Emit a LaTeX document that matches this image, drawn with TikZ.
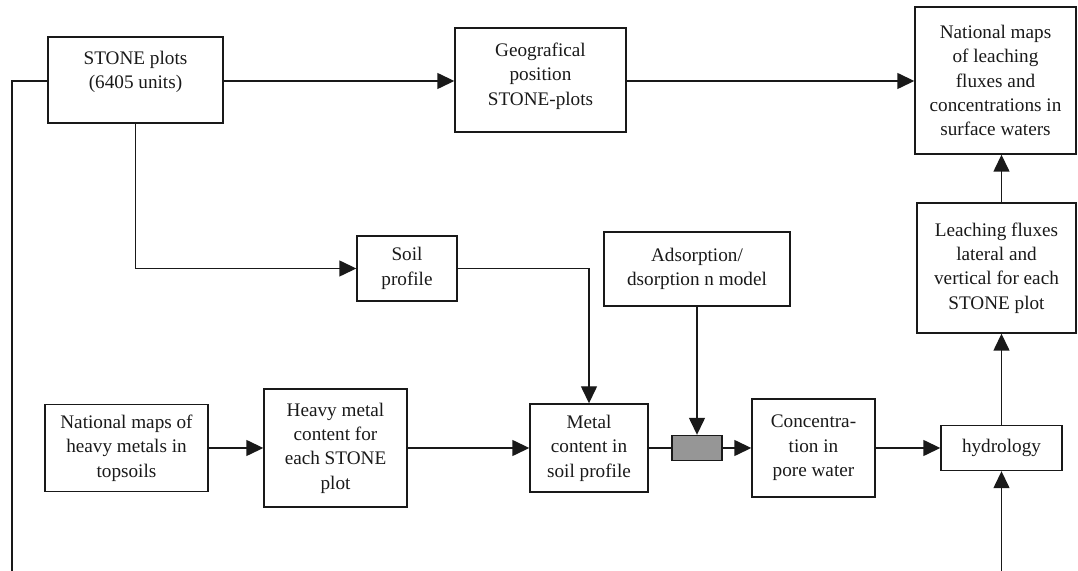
\documentclass[tikz,border=0pt]{standalone}
\usepackage{fontspec}
\setmainfont{Liberation Serif}
\usetikzlibrary{arrows.meta}
\definecolor{boxgrey}{RGB}{150,150,150}
\definecolor{ink}{RGB}{25,25,25}
\tikzset{
  txt/.style={align=center, inner sep=0pt, font=\fontsize{9.6}{12.2}\selectfont, text=ink},
  box/.style={txt, draw=ink, line width=0.7pt, inner sep=1pt},
  conn/.style={draw=ink, line width=0.7pt},
  arr/.style={conn, -{Triangle[length=8.5pt,width=8pt]}},
}
\begin{document}
\begin{tikzpicture}[x=0.5pt,y=-0.5pt]
\useasboundingbox (0,0) rectangle (1078,571);
\node[box, minimum width=87.5pt, minimum height=43pt] (stone) at (135.5,80) {};
\node[txt] (stonetext) at (135.5,72) {STONE plots\\(6405 units)};
\node[box, minimum width=85.5pt, minimum height=52pt] (geo) at (540.5,80) {};
\node[txt] (geotext) at (540.5,76) {Geografical\\position\\STONE-plots};
\node[box, minimum width=80.5pt, minimum height=73.5pt] (natmaps) at (995.5,80.5) {National maps\\of leaching\\fluxes and\\concentrations in\\surface waters};
\node[box, minimum width=79.5pt, minimum height=65pt] (leach) at (996.5,268) {Leaching fluxes\\lateral and\\vertical for each\\STONE plot};
\node[box, minimum width=60.5pt, minimum height=22.5pt] (hydro) at (1001.5,448) {hydrology};
\node[box, minimum width=61.5pt, minimum height=49pt] (conc) at (813.5,448) {Concentra-\\tion in\\pore water};
\node[box, fill=boxgrey, minimum width=25pt, minimum height=12.5pt] (grey) at (697,448) {};
\node[box, minimum width=59pt, minimum height=44pt] (metal) at (589,448) {Metal\\content in\\soil profile};
\node[box, minimum width=93pt, minimum height=37pt] (adsorp) at (697,269) {Adsorption/\\dsorption n model};
\node[box, minimum width=50pt, minimum height=32.5pt] (soil) at (407,268.5) {Soil\\profile};
\node[box, minimum width=81.5pt, minimum height=43.5pt] (natheavy) at (126.5,448) {National maps of\\heavy metals in\\topsoils};
\node[box, minimum width=71.5pt, minimum height=59pt] (heavy) at (335.5,448) {Heavy metal\\content for\\each STONE\\plot};
\coordinate (leftend) at (12,571);
\coordinate (hydroin) at (1001.5,571);
% connectors
\draw[arr] (stone.east |- 0,81) -- (geo.west |- 0,81);
\draw[arr] (geo.east |- 0,81) -- (natmaps.west |- 0,81);
\draw[conn] (stone.west |- 0,81) -| (leftend);
\draw[arr] (stone.south) |- (soil.west);
\draw[arr] (soil.east) -| (metal.north);
\draw[arr] (adsorp.south) -- (grey.north);
\draw[arr] (natheavy.east) -- (heavy.west);
\draw[arr] (heavy.east) -- (metal.west);
\draw[conn] (metal.east) -- (grey.west);
\draw[arr] (grey.east) -- (conc.west);
\draw[arr] (conc.east) -- (hydro.west);
\draw[arr] (hydroin) -- (hydro.south);
\draw[arr] (hydro.north) -- (hydro.north |- leach.south);
\draw[arr] (hydro.north |- leach.north) -- (hydro.north |- natmaps.south);
\end{tikzpicture}
\end{document}
